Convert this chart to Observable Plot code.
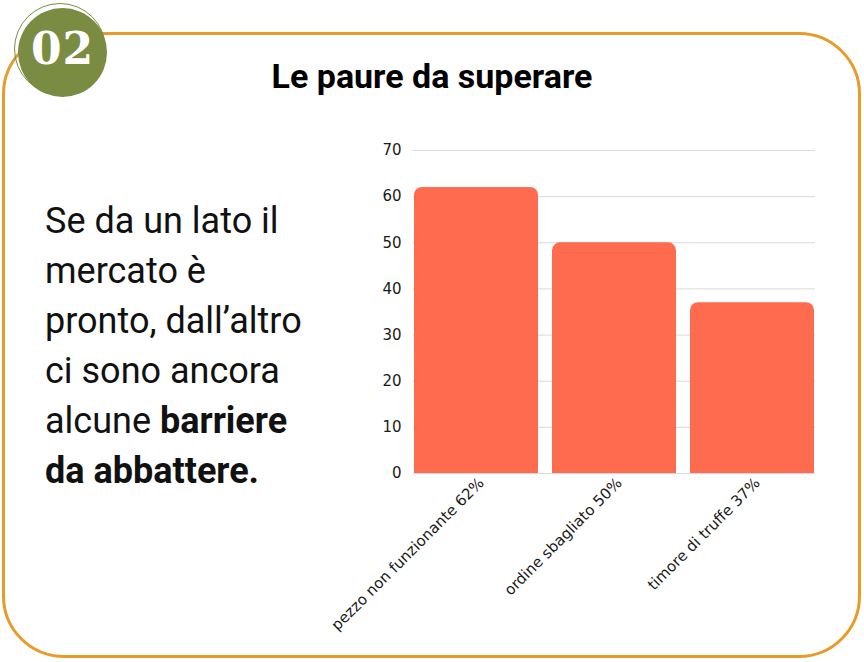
<!DOCTYPE html>
<html>
<head>
<meta charset="utf-8">
<script src="https://cdn.jsdelivr.net/npm/d3@7"></script>
<script src="https://cdn.jsdelivr.net/npm/@observablehq/plot@0.6"></script>
<style>
  html, body { margin: 0; padding: 0; background: #fff; }
  #page { position: relative; width: 864px; height: 662px; overflow: hidden; }
  #frame { position: absolute; left: 2px; top: 32px; width: 853px; height: 620px;
           border: 3.5px solid #E99B2A; border-radius: 62px; }
  #badge { position: absolute; left: 18px; top: 8px; width: 89px; height: 89px; border-radius: 50%;
           background: #7A8C42; }
  #ring { position: absolute; left: 14px; top: 3px; width: 92px; height: 92px; border-radius: 50%;
          border: 1.2px solid #7A8C42; box-sizing: border-box; }
  #num { position: absolute; left: 18px; top: 9px; width: 89px; height: 80px; line-height: 80px; text-align: center;
         color: #fff; font-family: "DejaVu Serif", serif; font-weight: bold; font-size: 44px; letter-spacing: 1px; }
  #title { position: absolute; left: 0; top: 56px; width: 864px; text-align: center;
           font-family: Roboto, sans-serif; font-weight: bold; font-size: 34px; line-height: 40px; color: #000; }
  #text { position: absolute; left: 45px; top: 196px; width: 320px;
          font-family: Roboto, sans-serif; font-size: 36px; line-height: 50px; color: #111; }
  #chart { position: absolute; left: 0; top: 0; }
</style>
</head>
<body>
<div id="page">
  <div id="frame"></div>
  <div id="badge"></div>
  <div id="ring"></div>
  <div id="num">02</div>
  <div id="title">Le paure da superare</div>
  <div id="text">Se da un lato il<br>mercato è<br>pronto, dall’altro<br>ci sono ancora<br>alcune <b>barriere<br>da abbattere.</b></div>
  <div id="chart"></div>
</div>
<script>
const categories = ["pezzo non funzionante 62%", "ordine sbagliato 50%", "timore di truffe 37%"];
const values = [62, 50, 37];
const yTicks = [0, 10, 20, 30, 40, 50, 60, 70];

const data = categories.map((c, i) => ({category: c, value: values[i]}));
const barColor = "#FF6B4E";

const chart = Plot.plot({
  width: 864,
  height: 662,
  marginLeft: 413,
  marginRight: 49,
  marginTop: 150,
  marginBottom: 189,
  style: {background: "transparent", fontFamily: "'DejaVu Sans', sans-serif", fontSize: "15px", color: "#1a1a1a"},
  x: {domain: categories, padding: 0.1, paddingOuter: 0, label: null},
  y: {domain: [0, 70], ticks: yTicks, label: null},
  marks: [
    Plot.gridY(yTicks, {stroke: "#d9d9d9", strokeOpacity: 1}),
    Plot.barY(data, {x: "category", y: "value", fill: barColor, rx: 8}),
    Plot.barY(data, {x: "category", y: d => d.value / 2, fill: barColor}),
    Plot.axisY({ticks: yTicks, tickSize: 0, tickPadding: 12, fontSize: 15}),
    Plot.axisX({tickSize: 0, tickRotate: -45, tickPadding: 8, fontSize: 15, dx: 5, dy: -1})
  ]
});
document.getElementById("chart").appendChild(chart);
</script>
</body>
</html>
